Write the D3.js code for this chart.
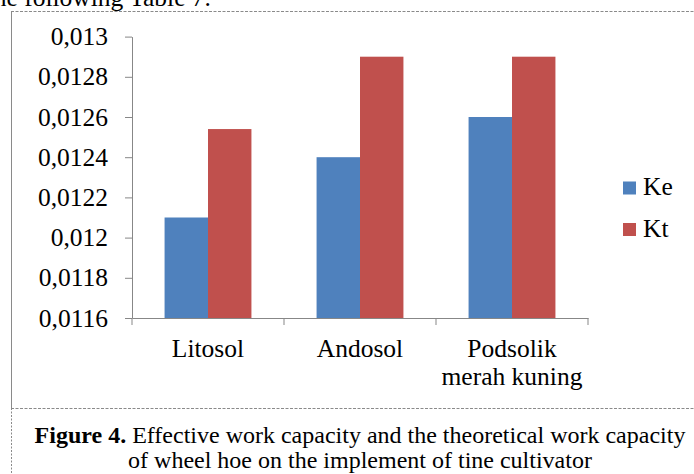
<!DOCTYPE html>
<html>
<head>
<meta charset="utf-8">
<script src="https://cdn.jsdelivr.net/npm/d3@7"></script>
<style>
  body { margin: 0; background: #fff; }
  svg { display: block; font-family: "Liberation Serif", "Times New Roman", serif; }
</style>
</head>
<body>
<script>
// Chart values
var categories = ["Litosol", "Andosol", "Podsolik merah kuning"];
var categoryLines = [["Litosol"], ["Andosol"], ["Podsolik", "merah kuning"]];
var seriesNames = ["Ke", "Kt"];
var keValues = [0.0121, 0.0124, 0.0126];
var ktValues = [0.01254, 0.0129, 0.0129];
var yTicks = [0.0116, 0.0118, 0.012, 0.0122, 0.0124, 0.0126, 0.0128, 0.013];
var colors = ["#4F81BD", "#C0504D"];

var width = 694, height = 474;
var plotLeft = 132, plotRight = 588, plotTop = 36.6, plotBottom = 318;
var labelSize = "25.5px";

var svg = d3.select("body").append("svg")
    .attr("width", width)
    .attr("height", height);

// text of the page above the figure, cut off at the top and left
svg.append("text")
    .attr("x", 211).attr("y", 5.5)
    .attr("text-anchor", "end")
    .attr("font-size", labelSize)
    .text("the following Table 7.");

// dashed frame of the figure
var frame = svg.append("g").attr("stroke", "#8a8a8a").attr("fill", "none");
frame.append("line").attr("x1", 11).attr("x2", width).attr("y1", 11.5).attr("y2", 11.5)
    .attr("stroke-dasharray", "3,1.5");
frame.append("line").attr("x1", 11.5).attr("x2", 11.5).attr("y1", 11).attr("y2", 408);
frame.append("line").attr("x1", 11.5).attr("x2", 11.5).attr("y1", 408).attr("y2", height)
    .attr("stroke-dasharray", "2,1.5");
frame.append("line").attr("x1", 11).attr("x2", width).attr("y1", 408.5).attr("y2", 408.5)
    .attr("stroke-dasharray", "3,1.5");

// scales
var xScale = d3.scaleBand()
    .domain(categories)
    .range([plotLeft, plotRight]);
var xInner = d3.scaleBand()
    .domain(seriesNames)
    .range([0, xScale.bandwidth()])
    .paddingOuter(0.75);
var yScale = d3.scaleLinear()
    .domain([0.0116, 0.013])
    .range([plotBottom, plotTop]);

// bars
var data = categories.map(function(c, i) {
    return { cat: c, vals: [keValues[i], ktValues[i]] };
});
var groups = svg.selectAll("g.grp").data(data).enter().append("g")
    .attr("class", "grp")
    .attr("transform", function(d) { return "translate(" + xScale(d.cat) + ",0)"; });
groups.selectAll("rect").data(function(d) {
        return d.vals.map(function(v, j) { return { s: seriesNames[j], v: v, j: j }; });
    }).enter().append("rect")
    .attr("x", function(d) { return xInner(d.s); })
    .attr("width", xInner.bandwidth())
    .attr("y", function(d) { return yScale(d.v); })
    .attr("height", function(d) { return plotBottom - yScale(d.v); })
    .attr("fill", function(d) { return colors[d.j]; });

// y axis
var yAxis = d3.axisLeft(yScale)
    .tickValues(yTicks)
    .tickSize(7)
    .tickSizeOuter(0)
    .tickPadding(17)
    .tickFormat(function(d) { return String(+d.toFixed(4)).replace(".", ","); });
var gy = svg.append("g")
    .attr("transform", "translate(" + plotLeft + ",0)")
    .call(yAxis);
gy.selectAll("text")
    .attr("font-size", labelSize)
    .attr("font-family", "Liberation Serif")
    .attr("fill", "#000");

// x axis
var xAxis = d3.axisBottom(xScale).tickSize(0).tickSizeOuter(0).tickFormat("");
var gx = svg.append("g")
    .attr("transform", "translate(0," + plotBottom + ")")
    .call(xAxis);
gx.selectAll(".tick").remove();
// tick marks between categories
var edges = categories.map(function(c) { return xScale(c); }).concat([plotRight]);
gx.selectAll("line.sep").data(edges).enter().append("line")
    .attr("class", "sep")
    .attr("x1", function(d) { return d; }).attr("x2", function(d) { return d; })
    .attr("y1", 0).attr("y2", 7);

svg.selectAll(".domain, .tick line, line.sep").attr("stroke", "#878787");

// category labels
svg.selectAll("text.cat").data(categories).enter().append("text")
    .attr("class", "cat")
    .attr("y", 357)
    .attr("text-anchor", "middle")
    .attr("font-size", labelSize)
    .each(function(d, i) {
        var t = d3.select(this);
        categoryLines[i].forEach(function(line, k) {
            t.append("tspan")
                .attr("x", xScale(d) + xScale.bandwidth() / 2)
                .attr("dy", k === 0 ? 0 : 28)
                .text(line);
        });
    });

// legend
var legend = svg.selectAll("g.leg").data(seriesNames).enter().append("g")
    .attr("class", "leg")
    .attr("transform", function(d, i) { return "translate(623," + (181.5 + i * 41.5) + ")"; });
legend.append("rect")
    .attr("width", 13).attr("height", 13)
    .attr("fill", function(d, i) { return colors[i]; });
legend.append("text")
    .attr("x", 20).attr("y", 13.5)
    .attr("font-size", labelSize)
    .text(function(d) { return d; });

// caption
var cap = svg.append("text")
    .attr("x", 360).attr("y", 443)
    .attr("text-anchor", "middle")
    .attr("font-size", "24px");
cap.append("tspan").attr("font-weight", "bold").text("Figure 4.");
cap.append("tspan").text(" Effective work capacity and the theoretical work capacity");
svg.append("text")
    .attr("x", 360).attr("y", 467.5)
    .attr("text-anchor", "middle")
    .attr("font-size", "24px")
    .text("of wheel hoe on the implement of tine cultivator");
</script>
</body>
</html>
